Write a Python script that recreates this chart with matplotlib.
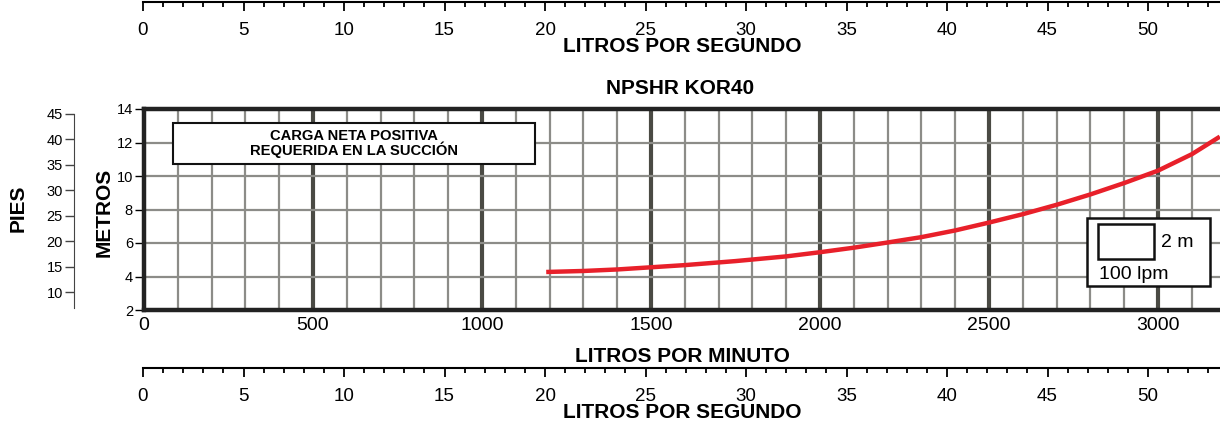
import numpy as np
import matplotlib.pyplot as plt
from matplotlib.patches import Rectangle

plt.rcParams['font.family'] = ['Liberation Sans', 'DejaVu Sans']

# NPSHR curve, lpm vs metres
caudal_lpm = [1190, 1300, 1400, 1500, 1600, 1750, 1900, 2000, 2100, 2200,
              2300, 2400, 2500, 2600, 2700, 2800, 2900, 3000, 3100, 3183]
npshr_m = [4.27, 4.33, 4.42, 4.55, 4.68, 4.92, 5.2, 5.45, 5.72, 6.03,
           6.35, 6.75, 7.22, 7.72, 8.28, 8.9, 9.58, 10.32, 11.3, 12.35]

lpm_ticks = [0, 500, 1000, 1500, 2000, 2500, 3000]
m_ticks = [2, 4, 6, 8, 10, 12, 14]
ft_ticks = [10, 15, 20, 25, 30, 35, 40, 45]
lps_ticks = [0, 5, 10, 15, 20, 25, 30, 35, 40, 45, 50]

W, H = 1220, 425
fig = plt.figure(figsize=(W / 100, H / 100), dpi=100)

def fx(px):
    return px / W

def fy(py):
    return 1 - py / H

# main chart
x0, x1 = 144, 144 + 3300 * 0.338
ax = fig.add_axes([fx(x0), fy(310), fx(x1 - x0), fy(109) - fy(310)])
ax.set_xlim(0, 3300)
ax.set_ylim(2, 14)
for v in range(100, 3300, 100):
    if v % 500 == 0:
        ax.axvline(v, color='#4a4a44', lw=3, zorder=1)
    else:
        ax.axvline(v, color='#8c8c88', lw=1.6, zorder=1)
for v in range(4, 14, 2):
    ax.axhline(v, color='#8c8c88', lw=1.6, zorder=1)
for s in ['left', 'top', 'bottom']:
    ax.spines[s].set_linewidth(3.2)
    ax.spines[s].set_color('#222222')
ax.spines['right'].set_visible(False)
ax.set_xticks(lpm_ticks)
ax.set_xticklabels([str(t) for t in lpm_ticks], fontsize=14)
ax.tick_params(axis='x', length=0, pad=5)
ax.set_yticks(m_ticks)
ax.tick_params(axis='y', length=6.5, width=1, labelsize=10.5, pad=1.5)

ax.plot(caudal_lpm, npshr_m, color='#e8202a', lw=3.2, solid_capstyle='butt', zorder=3)

ax.add_patch(Rectangle((86, 10.72), 1071, 2.44, facecolor='white',
                       edgecolor='#111111', lw=1.5, zorder=4))
ax.text(621, 11.94, 'CARGA NETA POSITIVA\nREQUERIDA EN LA SUCCIÓN', ha='center',
        va='center', fontsize=10.6, fontweight='bold', linespacing=0.92, zorder=5)

ax.add_patch(Rectangle((2790, 3.43), 364, 4.06, facecolor='white',
                       edgecolor='#111111', lw=1.8, zorder=4))
ax.add_patch(Rectangle((2822, 5.04), 166, 2.09, facecolor='white',
                       edgecolor='#111111', lw=1.8, zorder=5))
ax.text(3010, 6.05, '2 m', ha='left', va='center', fontsize=14, zorder=6)
ax.text(2825, 4.1, '100 lpm', ha='left', va='center', fontsize=14, zorder=6)

fig.text(fx(104), fy(212), 'METROS', rotation=90, ha='center', va='center',
         fontsize=15, fontweight='bold')

# feet scale
axf = fig.add_axes([fx(74), fy(310), 0.001, fy(109) - fy(310)])
axf.set_ylim(2 * 3.281, 14 * 3.281)
for s in ['right', 'top', 'bottom']:
    axf.spines[s].set_visible(False)
axf.spines['left'].set_bounds(6.9, 45)
axf.spines['left'].set_color('#444444')
axf.set_xticks([])
axf.set_yticks(ft_ticks)
axf.tick_params(axis='y', length=6.5, width=1, labelsize=10.5, pad=1.5, color='#444444')
axf.patch.set_visible(False)
fig.text(fx(18), fy(208), 'PIES', rotation=90, ha='center', va='center',
         fontsize=15, fontweight='bold')

# litres per second strips
def lps_strip(py):
    a = fig.add_axes([fx(143), fy(py), fx(W - 143), 0.0001])
    a.set_xlim(0, (W - 143) / 20.1)
    a.set_ylim(0, 1)
    for s in ['left', 'right', 'top']:
        a.spines[s].set_visible(False)
    a.spines['bottom'].set_linewidth(1.5)
    a.set_yticks([])
    a.set_xticks(lps_ticks)
    a.set_xticks(np.arange(0, 54, 1), minor=True)
    a.tick_params(axis='x', which='major', length=6.5, width=1.3, labelsize=13.5, pad=8)
    a.tick_params(axis='x', which='minor', length=3.5, width=1.3)
    a.patch.set_visible(False)
    return a

lps_strip(1.5)
lps_strip(368)

fig.text(fx(682), fy(47), 'LITROS POR SEGUNDO', ha='center', va='center',
         fontsize=15, fontweight='bold')
fig.text(fx(680), fy(88), 'NPSHR KOR40', ha='center', va='center',
         fontsize=15, fontweight='bold')
fig.text(fx(682), fy(356), 'LITROS POR MINUTO', ha='center', va='center',
         fontsize=15, fontweight='bold')
fig.text(fx(682), fy(413), 'LITROS POR SEGUNDO', ha='center', va='center',
         fontsize=15, fontweight='bold')

fig.savefig('out.png', dpi=100)
